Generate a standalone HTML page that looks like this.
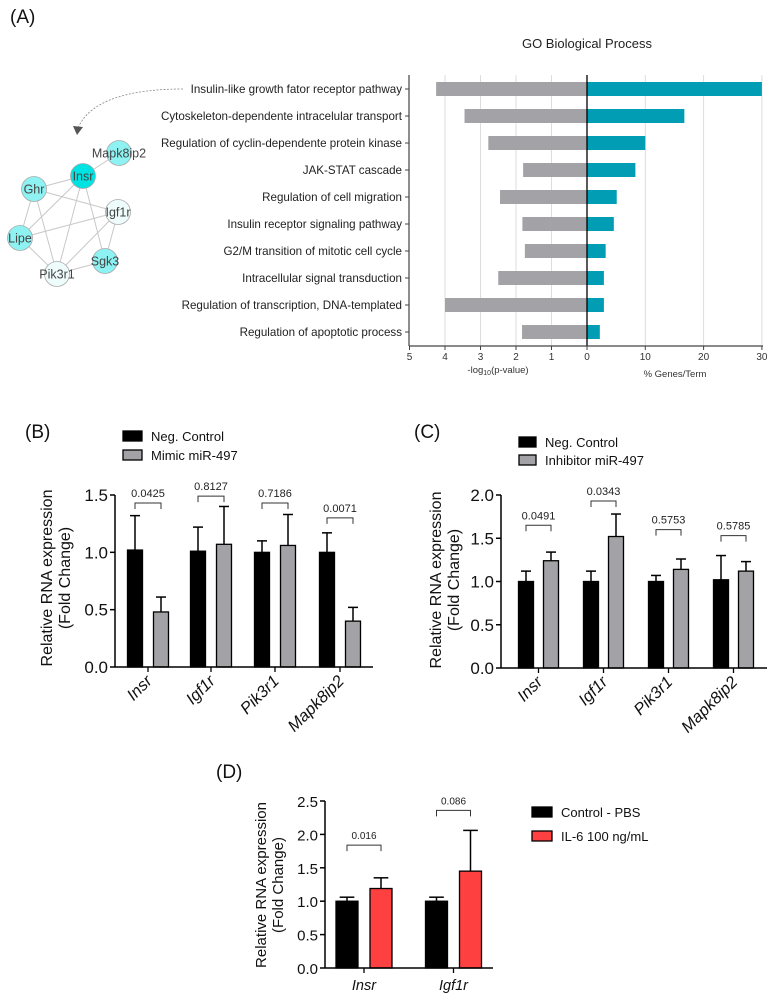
<!DOCTYPE html>
<html><head><meta charset="utf-8"><style>
html,body{margin:0;padding:0;background:#fff;}
svg{display:block;font-family:"Liberation Sans",Arial,sans-serif;}
</style></head><body>
<svg id="fig" width="776" height="1002" viewBox="0 0 776 1002" xmlns="http://www.w3.org/2000/svg"></svg>
<script>
// ---------- Panel A data ----------
const goTerms = ["Insulin-like growth fator receptor pathway","Cytoskeleton-dependente intracelular transport","Regulation of cyclin-dependente protein kinase","JAK-STAT cascade","Regulation of cell migration","Insulin receptor signaling pathway","G2/M transition of mitotic cell cycle","Intracellular signal transduction","Regulation of transcription, DNA-templated","Regulation of apoptotic process"];
const goLogP = [4.25,3.45,2.78,1.8,2.45,1.82,1.75,2.5,4.0,1.83];
const goPct = [30,16.7,10,8.3,5.1,4.6,3.2,2.9,2.9,2.2];
const goLeftTicks = [5,4,3,2,1,0];
const goRightTicks = [10,20,30];
// ---------- Panel B data ----------
const bGenes = ["Insr","Igf1r","Pik3r1","Mapk8ip2"];
const bCtrl = [1.02,1.01,1.0,1.0];
const bCtrlErr = [1.32,1.22,1.10,1.17];
const bMimic = [0.48,1.07,1.06,0.40];
const bMimicErr = [0.61,1.40,1.33,0.52];
const bP = ["0.0425","0.8127","0.7186","0.0071"];
const bPLevel = [1.43,1.49,1.43,1.30];
const bTicks = [0,0.5,1.0,1.5];
// ---------- Panel C data ----------
const cGenes = ["Insr","Igf1r","Pik3r1","Mapk8ip2"];
const cCtrl = [1.0,1.0,1.0,1.02];
const cCtrlErr = [1.12,1.12,1.07,1.30];
const cInh = [1.24,1.52,1.14,1.12];
const cInhErr = [1.34,1.78,1.26,1.23];
const cP = ["0.0491","0.0343","0.5753","0.5785"];
const cPLevel = [1.65,1.93,1.60,1.53];
const cTicks = [0,0.5,1.0,1.5,2.0];
// ---------- Panel D data ----------
const dGenes = ["Insr","Igf1r"];
const dCtrl = [1.0,1.0];
const dCtrlErr = [1.06,1.06];
const dIL6 = [1.19,1.45];
const dIL6Err = [1.35,2.06];
const dP = ["0.016","0.086"];
const dPLevel = [1.84,2.36];
const dTicks = [0,0.5,1.0,1.5,2.0,2.5];

const NS="http://www.w3.org/2000/svg";
const svg=document.getElementById('fig');
function el(tag,attrs,parent,text){const e=document.createElementNS(NS,tag);for(const k in attrs)e.setAttribute(k,attrs[k]);if(text!==undefined)e.textContent=text;(parent||svg).appendChild(e);return e;}

// ================= Panel A =================
let t=el('text',{x:10,y:23,'font-size':19,fill:'#111'},svg,'(A)');


t=el('text',{x:587,y:48,'font-size':13,fill:'#222','text-anchor':'middle'},svg,'GO Biological Process');



const x0=587, lpx=35.5, rpx=5.83, rowY0=89, rowStep=27, barH=14, axY=346;
const xl=v=>x0-v*lpx, xr=v=>x0+v*rpx, ry=i=>rowY0+i*rowStep;
[1,2,3,4].forEach(v=>{const g=el('line',{x1:xl(v),x2:xl(v),y1:75,y2:axY,stroke:'#ddd','stroke-width':1});

});
goRightTicks.forEach(v=>{const g=el('line',{x1:xr(v),x2:xr(v),y1:75,y2:axY,stroke:'#ddd','stroke-width':1});

});
goTerms.forEach((term,i)=>{
  let r=el('rect',{x:xl(goLogP[i]),y:ry(i)-barH/2,width:goLogP[i]*lpx,height:barH,fill:'#a3a2a7'});
  
  
  r=el('rect',{x:x0,y:ry(i)-barH/2,width:goPct[i]*rpx,height:barH,fill:'#009db5'});
  
  
  let tx=el('text',{x:402,y:ry(i)+4,'font-size':11.6,fill:'#222','text-anchor':'end'},svg,term);
  
  
  el('line',{x1:405,x2:409,y1:ry(i),y2:ry(i),stroke:'#444','stroke-width':1});
});
el('line',{x1:409,x2:409,y1:75,y2:axY,stroke:'#444','stroke-width':1.2});
el('line',{x1:x0,x2:x0,y1:75,y2:axY,stroke:'#000','stroke-width':1.3});
el('line',{x1:409,x2:763,y1:axY,y2:axY,stroke:'#444','stroke-width':1.2});
goLeftTicks.forEach(v=>{el('line',{x1:xl(v),x2:xl(v),y1:axY,y2:axY+4,stroke:'#444'});
 const tk=el('text',{x:xl(v),y:axY+14,'font-size':10,fill:'#333','text-anchor':'middle'},svg,String(v));
 
 });
goRightTicks.forEach(v=>{el('line',{x1:xr(v),x2:xr(v),y1:axY,y2:axY+4,stroke:'#444'});
 const tk=el('text',{x:xr(v),y:axY+14,'font-size':10,fill:'#333','text-anchor':'middle'},svg,String(v));
 
 });
t=el('text',{x:498,y:373,'font-size':9.5,fill:'#333','text-anchor':'middle'},svg);
t.innerHTML='-log<tspan font-size="7" dy="2">10</tspan><tspan dy="-2">(p-value)</tspan>';


t=el('text',{x:675,y:377,'font-size':9.5,fill:'#333','text-anchor':'middle'},svg,'% Genes/Term');



// network
const arrow=el('path',{d:'M183 89 C130 89 90 100 78 128',fill:'none',stroke:'#888','stroke-width':0.8,'stroke-dasharray':'2,1.5'});


el('polygon',{points:'73,126 83,127 77,135',fill:'#555'});
const nodes={Mapk8ip2:[119,153,'#8ef2f2'],Insr:[83,176,'#00e3e3'],Ghr:[34,189,'#8ef2f2'],Igf1r:[118,212,'#eefcfc'],Lipe:[20,238,'#8ef2f2'],Sgk3:[105,261,'#8ef2f2'],Pik3r1:[57,274,'#eefcfc']};
const edges=[['Insr','Mapk8ip2'],['Insr','Ghr'],['Insr','Lipe'],['Insr','Pik3r1'],['Insr','Sgk3'],['Ghr','Igf1r'],['Ghr','Lipe'],['Ghr','Pik3r1'],['Lipe','Igf1r'],['Lipe','Pik3r1'],['Igf1r','Pik3r1'],['Igf1r','Sgk3'],['Pik3r1','Sgk3']];
edges.forEach(([a,b])=>{const ln=el('line',{x1:nodes[a][0],y1:nodes[a][1],x2:nodes[b][0],y2:nodes[b][1],stroke:'#c8c8c8','stroke-width':1});

});
for(const n in nodes){const [x,y,c]=nodes[n];
 const ci=el('circle',{cx:x,cy:y,r:12.5,fill:c,stroke:'#aaa','stroke-width':0.8});
 
 
 const tx=el('text',{x:x,y:y+4.5,'font-size':12.5,fill:'#444','text-anchor':'middle'},svg,n);
 
 }

// ================= Bar panels =================
function barPanel(cfg){
  const {ax,y0,ymax,x1,ticks,genes,s1,e1,s2,e2,p,pl,c2,centers,bw,gap,rot,tickFs,lab,labX,labY,legX,legY,legDy,legText,titleX,titleY,name}=cfg;
  const ys=v=>y0-v/ymax*(y0-cfg.ytop);
  let tx=el('text',{x:labX,y:labY,'font-size':19,fill:'#111'},svg,lab);
  
  
  legText.forEach((s,i)=>{const yy=legY+i*legDy;
    const r=el('rect',{x:legX,y:yy-5,width:cfg.legW,height:10,fill:i?c2:'#000',stroke:'#000','stroke-width':1.3});
    
    
    const lt=el('text',{x:legX+cfg.legW+9,y:yy+5,'font-size':cfg.legFs,fill:'#111'},svg,s);
    
    });
  const g=el('g',{transform:`translate(${titleX},${titleY}) rotate(-90)`});
  
  
  el('text',{x:0,y:0,'font-size':cfg.titleFs,fill:'#111','text-anchor':'middle'},g,'Relative RNA expression');
  el('text',{x:0,y:cfg.titleFs+2,'font-size':cfg.titleFs,fill:'#111','text-anchor':'middle'},g,'(Fold Change)');
  genes.forEach((gname,i)=>{
    const c=centers[i];
    [[s1,e1,'#000',c-gap],[s2,e2,c2,c+gap]].forEach(([s,e,col,cx],k)=>{
      const top=ys(s[i]);
      el('line',{x1:cx,x2:cx,y1:top,y2:ys(e[i]),stroke:'#000','stroke-width':1.5});
      el('line',{x1:cx-bw/3,x2:cx+bw/3,y1:ys(e[i]),y2:ys(e[i]),stroke:'#000','stroke-width':1.5});
      const r=el('rect',{x:cx-bw/2,y:top,width:bw,height:y0-top,fill:col,stroke:'#000','stroke-width':1.3});
      
      
    });
    const by=ys(pl[i]);
    const br=el('path',{d:`M${c-gap} ${by+6} V${by} H${c+gap} V${by+6}`,fill:'none',stroke:'#333','stroke-width':1});
    
    
    const pt=el('text',{x:c,y:by-6,'font-size':cfg.pFs,fill:'#222','text-anchor':'middle'},svg,p[i]);
    
    
    el('line',{x1:c,x2:c,y1:y0,y2:y0+5,stroke:'#000','stroke-width':1.3});
    let xt;
    if(rot){xt=el('text',{x:0,y:0,'font-size':cfg.xFs,'font-style':'italic',fill:'#111','text-anchor':'end',transform:`translate(${c+5},${y0+15}) rotate(-45)`},svg,gname);}
    else{xt=el('text',{x:c,y:y0+22,'font-size':cfg.xFs,'font-style':'italic',fill:'#111','text-anchor':'middle'},svg,gname);}
    
    
  });
  el('line',{x1:ax,x2:ax,y1:cfg.ytop,y2:y0,stroke:'#000','stroke-width':1.5});
  el('line',{x1:ax,x2:x1,y1:y0,y2:y0,stroke:'#000','stroke-width':1.5});
  ticks.forEach(v=>{el('line',{x1:ax-5,x2:ax,y1:ys(v),y2:ys(v),stroke:'#000','stroke-width':1.5});
    const tk=el('text',{x:ax-7,y:ys(v)+6,'font-size':tickFs,fill:'#111','text-anchor':'end'},svg,v.toFixed(1));
    
    });
}
barPanel({name:'panel-b',ax:115,y0:667,ytop:495,ymax:1.5,x1:373,ticks:bTicks,genes:bGenes,s1:bCtrl,e1:bCtrlErr,s2:bMimic,e2:bMimicErr,p:bP,pl:bPLevel,c2:'#a3a3a7',
 centers:[148,211,275,340],bw:15,gap:13,rot:true,tickFs:17,lab:'(B)',labX:25,labY:438,legX:123,legY:436,legDy:19,legW:19,legFs:13,legText:['Neg. Control','Mimic miR-497'],
 titleX:52,titleY:578,titleFs:16,pFs:11,xFs:16.5});
barPanel({name:'panel-c',ax:501,y0:668,ytop:495,ymax:2.0,x1:767,ticks:cTicks,genes:cGenes,s1:cCtrl,e1:cCtrlErr,s2:cInh,e2:cInhErr,p:cP,pl:cPLevel,c2:'#a3a3a7',
 centers:[538.5,603.5,668.5,733.5],bw:15,gap:12.5,rot:true,tickFs:17,lab:'(C)',labX:414,labY:438,legX:519,legY:442,legDy:18,legW:17,legFs:13,legText:['Neg. Control','Inhibitor miR-497'],
 titleX:441,titleY:580,titleFs:16,pFs:11,xFs:16.5});
barPanel({name:'panel-d',ax:325,y0:968,ytop:801,ymax:2.5,x1:493,ticks:dTicks,genes:dGenes,s1:dCtrl,e1:dCtrlErr,s2:dIL6,e2:dIL6Err,p:dP,pl:dPLevel,c2:'#ff4040',
 centers:[364,453.5],bw:22,gap:17,rot:false,tickFs:15,lab:'(D)',labX:216,labY:778,legX:532,legY:812,legDy:24,legW:20,legFs:13,legText:['Control - PBS','IL-6 100 ng/mL'],
 titleX:266,titleY:885,titleFs:15,pFs:10,xFs:14.5});
</script>
</body></html>
